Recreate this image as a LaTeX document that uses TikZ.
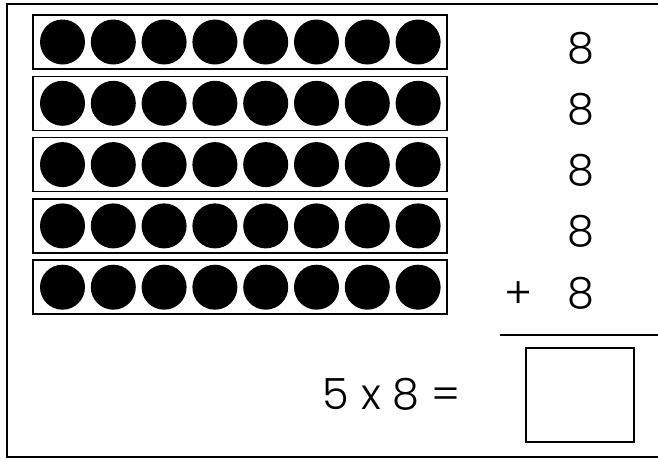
\documentclass[tikz,border=0pt]{standalone}
\usepackage{fontspec}
\setmainfont{Poppins Light}
\usepackage{tikz}
\usetikzlibrary{positioning}

\begin{document}
\begin{tikzpicture}[
  x=1pt, y=-1pt,
  frame/.style={draw, line width=2.2pt},
  rowbox/.style={rectangle, draw, line width=1.6pt, minimum width=414pt, minimum height=54pt, inner sep=0pt},
  dot/.style={circle, fill=black, minimum size=45pt, inner sep=0pt},
  num/.style={font=\fontsize{43}{48}\selectfont, anchor=base, inner sep=0pt},
  ansbox/.style={rectangle, draw, line width=1.6pt, minimum width=108pt, minimum height=94pt, inner sep=0pt}
]
\useasboundingbox (0,0) rectangle (658,459);
% outer frame, open on the right
\coordinate (tr) at (660,4);
\coordinate (br) at (660,457);
\draw[frame] (tr) -- (7,4) -- (7,457) -- (br);
% five rows of eight
\foreach \r in {1,...,5} {
  \node[rowbox] (row\r) at (240,{42+61.3*(\r-1)}) {};
  \foreach \c in {1,...,8}
    \node[dot] (d\r\c) at ({62.5+50.8*(\c-1)},{42+61.3*(\r-1)}) {};
  \node[num] (n\r) at (581,{63+61.3*(\r-1)}) {8};
}
\node[num] (plus) at (519,{63+61.3*4}) {+};
% sum line and answer
\coordinate (ls) at (500,335);
\coordinate (le) at (660,335);
\draw[line width=1.8pt] (ls) -- (le);
\node[num] (eq) at (391.5,409) {5 x 8 =};
\node[ansbox] (ans) at (580,395) {};
\end{tikzpicture}
\end{document}
